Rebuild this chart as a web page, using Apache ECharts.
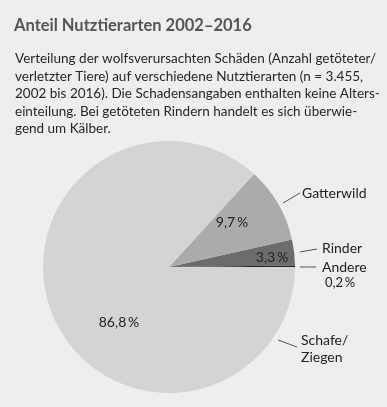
<!DOCTYPE html>
<html><head><meta charset="utf-8">
<script src="https://cdn.jsdelivr.net/npm/echarts@6/dist/echarts.min.js"></script>
<style>html,body{margin:0;padding:0;background:#eeeeee}#c{width:387px;height:407px}</style>
</head><body><div id="c"></div>
<script>
const TITLE = 'Anteil Nutztierarten 2002–2016';
const BODY = [
  'Verteilung der wolfsverursachten Schäden (Anzahl getöteter/',
  'verletzter Tiere) auf verschiedene Nutztierarten (n = 3.455,',
  '2002 bis 2016). Die Schadensangaben enthalten keine Alters-',
  'einteilung. Bei getöteten Rindern handelt es sich überwie-',
  'gend um Kälber.'
];
const categories = ['Andere', 'Rinder', 'Gatterwild', 'Schafe/\nZiegen'];
const values = [0.2, 3.3, 9.7, 86.8];
const colors = ['#1e1e1e', '#6c6c6c', '#ababab', '#d4d4d4'];

const fmt = v => String(v).replace('.', ',') + '\u2009%';
const FONT = 'Lato';

// label placements (style)
const pctPos = [null, [272, 257], [232, 222], [119, 322]];
const namePos = [[322, 268], [322, 248], [302, 193], [301, 340]];
const nameLines = [
  [[300, 267], [316, 267]],
  [[300, 252], [317, 249]],
  [[283, 203], [300, 193]],
  [[278, 340], [297, 347]]
];

const chart = echarts.init(document.getElementById('c'));
const center = [169, 267];
const radius = 126;
chart.setOption({
  backgroundColor: '#eeeeee',
  animation: false,
  title: [
    { text: TITLE, left: 9, top: 12, textStyle: { fontFamily: FONT, fontSize: 16.5, fontWeight: 'bold', color: '#555555' } },
    { text: BODY.join('\n'), left: 10, top: 45, textStyle: { fontFamily: FONT, fontSize: 13.5, fontWeight: 'normal', color: '#262626', lineHeight: 17.5 } }
  ],
  series: [
    {
      type: 'pie', center: center, radius: radius, startAngle: 0, clockwise: false,
      silent: true, minAngle: 0,
      data: categories.map((c, i) => ({ name: c, value: values[i], itemStyle: { color: colors[i] },
        label: { show: i !== 0 } })),
      itemStyle: { borderWidth: 0 },
      label: { position: 'inside', formatter: p => fmt(p.value), fontFamily: FONT, fontSize: 14, color: '#222' },
      labelLine: { show: false },
      labelLayout: p => pctPos[p.dataIndex] ? { x: pctPos[p.dataIndex][0], y: pctPos[p.dataIndex][1], align: 'center', verticalAlign: 'middle' } : {}
    },
    {
      type: 'pie', center: center, radius: radius, startAngle: 0, clockwise: false,
      silent: true,
      data: categories.map((c, i) => ({ name: c, value: values[i] })),
      itemStyle: { color: 'rgba(0,0,0,0)' },
      label: {
        position: 'outside', overflow: 'none', fontFamily: FONT, fontSize: 14, color: '#222', lineHeight: 17,
        formatter: p => p.dataIndex === 0 ? '{a|' + p.name + '}\n{b|' + fmt(p.value) + '}' : p.name,
        rich: { a: { fontFamily: FONT, fontSize: 14, color: '#222', lineHeight: 15 }, b: { fontFamily: FONT, fontSize: 13, color: '#222', lineHeight: 15, padding: [0, 0, 0, 3] } }
      },
      labelLine: { show: true, lineStyle: { color: '#555', width: 1 }, length: 10, length2: 5 },
      labelLayout: p => {
        const i = p.dataIndex;
        return { x: namePos[i][0], y: namePos[i][1], align: 'left', verticalAlign: i === 0 || i === 3 ? 'top' : 'middle',
          dy: (i === 0 || i === 3) ? -8 : 0, labelLinePoints: nameLines[i] };
      }
    }
  ]
});
</script></body></html>
